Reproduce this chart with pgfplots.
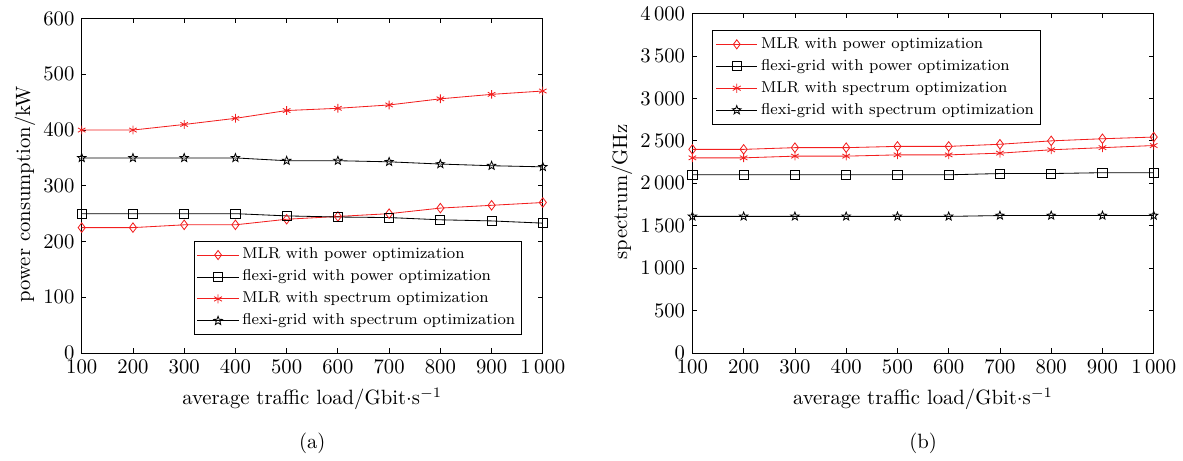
\documentclass[border=0pt]{standalone}
\usepackage{pgfplots}
\pgfplotsset{compat=1.18}
\usetikzlibrary{plotmarks}
\pgfdeclareplotmark{pentagram}{%
  \pgfpathmoveto{\pgfpointpolar{90}{\pgfplotmarksize}}%
  \pgfpathlineto{\pgfpointpolar{126}{0.42\pgfplotmarksize}}%
  \pgfpathlineto{\pgfpointpolar{162}{\pgfplotmarksize}}%
  \pgfpathlineto{\pgfpointpolar{198}{0.42\pgfplotmarksize}}%
  \pgfpathlineto{\pgfpointpolar{234}{\pgfplotmarksize}}%
  \pgfpathlineto{\pgfpointpolar{270}{0.42\pgfplotmarksize}}%
  \pgfpathlineto{\pgfpointpolar{306}{\pgfplotmarksize}}%
  \pgfpathlineto{\pgfpointpolar{342}{0.42\pgfplotmarksize}}%
  \pgfpathlineto{\pgfpointpolar{18}{\pgfplotmarksize}}%
  \pgfpathlineto{\pgfpointpolar{54}{0.42\pgfplotmarksize}}%
  \pgfpathclose\pgfusepathqstroke}
\definecolor{lred}{rgb}{0.95,0.12,0.12}
\pgfplotsset{
  every axis/.append style={
    scale only axis, clip=false,
    xmin=100, xmax=1000,
    xtick={100,200,...,1000},
    /pgf/number format/1000 sep={\,},
    xlabel={average traffic load/Gbit$\cdot$s$^{-1}$},
    tick style={black, thin},
    major tick length=2.3pt,
    ylabel shift=-3pt,
    ylabel style={at={(ticklabel cs:0.475)}},
    legend cell align=left,
    legend image code/.code={%
      \draw[mark repeat=2,mark phase=2,mark size=2.2pt]
        plot coordinates {(0cm,0cm)(0.35cm,0cm)(0.7cm,0cm)};},
    legend style={font=\fontsize{7.6}{9}\selectfont, draw=black, inner sep=1.5pt,
      nodes={inner sep=1.6pt, text height=5.6pt, text depth=1.8pt}},
  },
  mlrp/.style={lred, thin, mark=diamond, mark size=2.3pt, mark options={solid, fill=none}},
  flxp/.style={black, thin, mark=square, mark size=2.2pt, mark options={solid, fill=none}},
  mlrs/.style={lred, thin, mark=asterisk, mark size=2.1pt, mark options={solid}},
  flxs/.style={black, thin, mark=pentagram, mark size=2.1pt, mark options={solid}},
}
\begin{document}
\begin{tikzpicture}
\path (-39.5pt,-51.2pt) (532pt,168.1pt);
\begin{axis}[
  at={(0pt,0pt)}, anchor=south west,
  width=222.9pt, height=161.7pt,
  ymin=0, ymax=600, ytick={0,100,...,600},
  ylabel={power consumption/kW},
  legend style={at={(rel axis cs:0.955,0.053)}, anchor=south east},
]
\addplot[mlrp] coordinates {(100,225)(200,225)(300,230)(400,230)(500,240)(600,245)(700,250)(800,260)(900,265)(1000,270)};
\addlegendentry{MLR with power optimization}
\addplot[flxp] coordinates {(100,250)(200,250)(300,250)(400,250)(500,246)(600,244)(700,243)(800,239)(900,237)(1000,233)};
\addlegendentry{flexi-grid with power optimization}
\addplot[mlrs] coordinates {(100,400)(200,400)(300,410)(400,421)(500,435)(600,439)(700,445)(800,456)(900,464)(1000,470)};
\addlegendentry{MLR with spectrum optimization}
\addplot[flxs] coordinates {(100,350)(200,350)(300,350)(400,350)(500,345)(600,345)(700,343)(800,339)(900,336)(1000,334)};
\addlegendentry{flexi-grid with spectrum optimization}
\node at (rel axis cs:0.5,0) [yshift=-43.5pt] {(a)};
\end{axis}
\begin{axis}[
  at={(295.2pt,0pt)}, anchor=south west,
  width=223pt, height=164.1pt,
  ymin=0, ymax=4000, ytick={0,500,...,4000},
  ylabel={spectrum/GHz},
  legend style={at={(rel axis cs:0.043,0.952)}, anchor=north west},
]
\addplot[mlrp] coordinates {(100,2400)(200,2400)(300,2420)(400,2420)(500,2435)(600,2435)(700,2460)(800,2500)(900,2525)(1000,2545)};
\addlegendentry{MLR with power optimization}
\addplot[flxp] coordinates {(100,2100)(200,2100)(300,2100)(400,2100)(500,2100)(600,2100)(700,2115)(800,2115)(900,2125)(1000,2125)};
\addlegendentry{flexi-grid with power optimization}
\addplot[mlrs] coordinates {(100,2300)(200,2300)(300,2320)(400,2320)(500,2335)(600,2335)(700,2355)(800,2395)(900,2420)(1000,2445)};
\addlegendentry{MLR with spectrum optimization}
\addplot[flxs] coordinates {(100,1610)(200,1610)(300,1610)(400,1610)(500,1610)(600,1610)(700,1620)(800,1620)(900,1620)(1000,1620)};
\addlegendentry{flexi-grid with spectrum optimization}
\node at (rel axis cs:0.5,0) [yshift=-43.5pt] {(b)};
\end{axis}
\end{tikzpicture}
\end{document}
